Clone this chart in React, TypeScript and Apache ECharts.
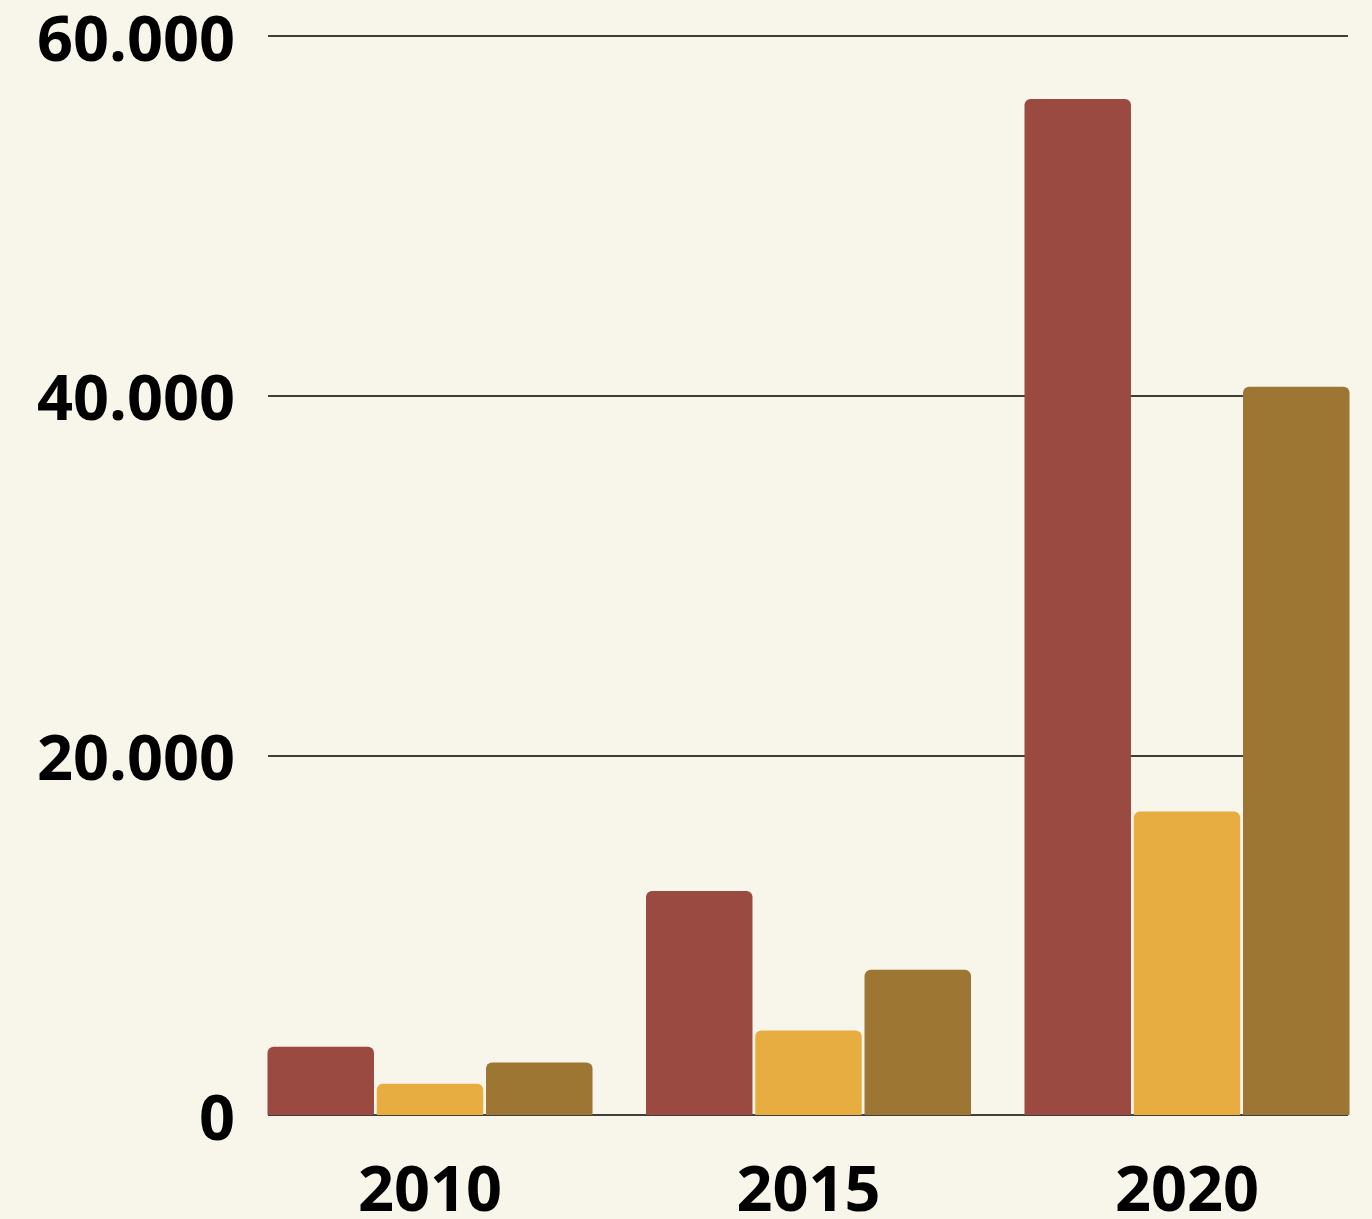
import React, { useEffect, useRef } from "react";
import * as echarts from "echarts";

const categories = ["2010", "2015", "2020"];
const seriesRed = [3800, 12450, 56500];
const seriesYellow = [1740, 4700, 16870];
const seriesBrown = [2920, 8070, 40500];
const yTicks = [0, 20000, 40000, 60000];

const BG = "#F8F5EB";
const FONT = "'Open Sans', 'Noto Sans', sans-serif";
const W = 1384;

function fmt(v: number) {
  if (v === 0) return "0";
  return String(v).replace(/\B(?=(\d{3})+(?!\d))/g, ".");
}

export default function App() {
  const ref = useRef<HTMLDivElement>(null);
  useEffect(() => {
    document.body.style.margin = "0";
    document.body.style.overflow = "hidden";
    document.body.style.background = BG;
    const chart = echarts.init(ref.current!, undefined, { renderer: "svg" });
    const mkBar = (name: string, data: number[], color: string) => ({
      name,
      type: "bar",
      xAxisIndex: 0,
      yAxisIndex: 0,
      data,
      barWidth: 106.5,
      barGap: "2.6%",
      itemStyle: { color, borderRadius: [6, 6, 0, 0] },
    });
    chart.setOption({
      animation: false,
      backgroundColor: BG,
      grid: [
        { left: 240.75, right: W - 1376.25, top: 36, bottom: 104 },
        { left: 268, right: W - 1348, top: 36, bottom: 104 },
      ],
      xAxis: [
        {
          type: "category",
          gridIndex: 0,
          data: categories,
          axisLine: { show: false },
          axisTick: { show: false },
          axisLabel: {
            color: "#000",
            fontFamily: FONT,
            fontWeight: "bold",
            fontSize: 63,
            lineHeight: 52,
            margin: 45,
          },
        },
        {
          type: "value",
          gridIndex: 1,
          show: false,
          min: 0,
          max: 1,
        },
      ],
      yAxis: [
        {
          type: "value",
          gridIndex: 0,
          min: yTicks[0],
          max: yTicks[yTicks.length - 1],
          interval: 20000,
          show: false,
        },
        {
          type: "value",
          gridIndex: 1,
          min: yTicks[0],
          max: yTicks[yTicks.length - 1],
          interval: 20000,
          axisLine: { show: false },
          axisTick: { show: false },
          splitLine: { show: true, lineStyle: { color: "#000", width: 1.5 } },
          axisLabel: {
            color: "#000",
            fontFamily: FONT,
            fontWeight: "bold",
            fontSize: 63,
            lineHeight: 56,
            margin: 33,
            formatter: (v: number) => fmt(v),
          },
        },
      ],
      series: [
        mkBar("A", seriesRed, "#9B4A42"),
        mkBar("B", seriesYellow, "#E8AD40"),
        mkBar("C", seriesBrown, "#9D7633"),
      ],
    });
    return () => chart.dispose();
  }, []);
  return <div ref={ref} style={{ width: W, height: 1219 }} />;
}
